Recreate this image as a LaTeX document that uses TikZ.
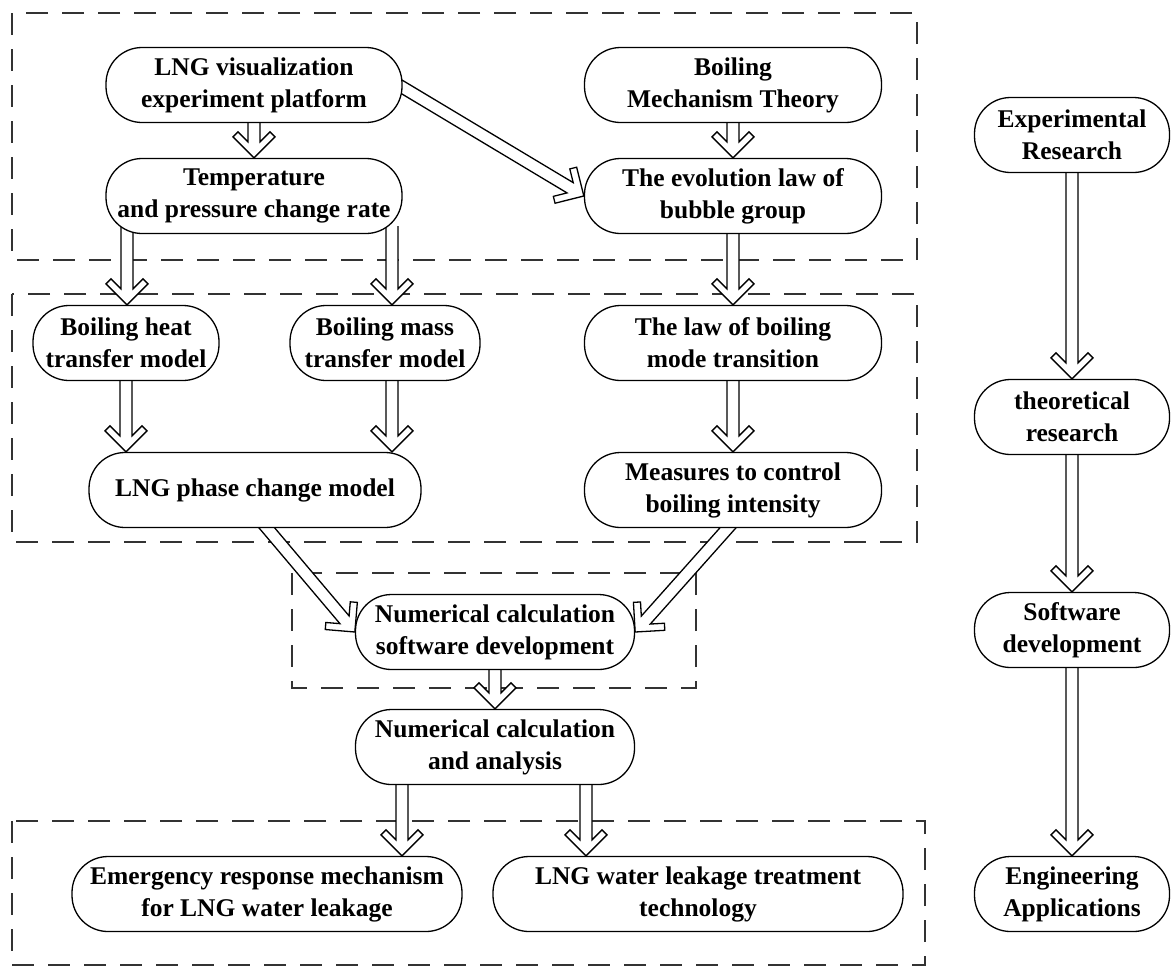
\documentclass[tikz,border=0pt]{standalone}
\usepackage{fontspec}
\setmainfont{Liberation Serif}
\usetikzlibrary{calc}
\pgfdeclarelayer{dashlayer}
\pgfdeclarelayer{arrlayer}
\pgfsetlayers{dashlayer,arrlayer,main}
\newcommand\hollowarrow[2]{%
  \coordinate (hS) at #1;
  \coordinate (hT) at #2;
  \coordinate (hJ) at ($(hT)!16pt!(hS)$);
  \coordinate (hO) at ($(hT)!21pt!(hS)$);
  \coordinate (hB) at ($(hT)!26pt!(hS)$);
  \draw[harr] ($(hS)!6pt!90:(hT)$) -- ($(hJ)!6pt!90:(hT)$) -- ($(hB)!16pt!90:(hT)$)
     -- ($(hO)!21pt!90:(hT)$) -- (hT) -- ($(hO)!21pt!-90:(hT)$)
     -- ($(hB)!16pt!-90:(hT)$) -- ($(hJ)!6pt!-90:(hT)$) -- ($(hS)!6pt!-90:(hT)$);
}
\begin{document}
\begin{tikzpicture}[x=1pt,y=-1pt,
  box/.style={draw, line width=1.3pt, fill=white, rounded corners=36pt,
    minimum height=75pt, inner sep=0pt, align=center,
    font=\fontsize{25.5}{32}\selectfont\bfseries},
  grp/.style={draw=black!80, line width=2pt, dash pattern=on 22pt off 14pt},
  harr/.style={draw, line width=1.3pt, fill=white, line join=miter}]
\useasboundingbox (0,0) rectangle (1174,967);

% nodes
\node[box,minimum width=296pt] (vis)  at (254,85)  {LNG visualization\\experiment platform};
\node[box,minimum width=296pt] (temp) at (254,196) {Temperature\\and pressure change rate};
\node[box,minimum width=297pt] (mech) at (733,85)  {Boiling\\Mechanism Theory};
\node[box,minimum width=297pt] (evo)  at (733,196) {The evolution law of\\bubble group};
\node[box,minimum width=186pt] (heat) at (126,343) {Boiling heat\\transfer model};
\node[box,minimum width=190pt] (mass) at (385,343) {Boiling mass\\transfer model};
\node[box,minimum width=297pt] (law)  at (733,343) {The law of boiling\\mode transition};
\node[box,minimum width=332pt] (phase) at (255,490) {LNG phase change model};
\node[box,minimum width=297pt] (meas) at (733,490) {Measures to control\\boiling intensity};
\node[box,minimum width=279pt] (soft) at (495,632) {Numerical calculation\\software development};
\node[box,minimum width=279pt] (ana)  at (495,747) {Numerical calculation\\and analysis};
\node[box,minimum width=390pt] (emer) at (267,894) {Emergency response mechanism\\for LNG water leakage};
\node[box,minimum width=410pt] (water) at (698,894) {LNG water leakage treatment\\technology};
\node[box,minimum width=195pt] (exp)  at (1072,135) {Experimental\\Research};
\node[box,minimum width=195pt] (theo) at (1072,417) {theoretical\\research};
\node[box,minimum width=195pt] (sdev) at (1072,630) {Software\\development};
\node[box,minimum width=195pt] (eng)  at (1072,894) {Engineering\\Applications};

\coordinate (t1) at ($(temp.south)+(-127,-8)$);
\coordinate (t2) at ($(temp.south)+(138,-8)$);
\coordinate (m1) at ($(mass.south)+(7,0)$);
\coordinate (a1) at ($(ana.south)+(-93,0)$);
\coordinate (a2) at ($(ana.south)+(91,0)$);

% dashed groups
\begin{pgfonlayer}{dashlayer}
\draw[grp] (12,13) rectangle (917,260);
\draw[grp] (12,294) rectangle (917,542);
\draw[grp] (292,573) rectangle (696,688);
\draw[grp] (12,821) rectangle (925,965);
\end{pgfonlayer}

% arrows
\begin{pgfonlayer}{arrlayer}
\hollowarrow{(vis.south)}{(temp.north)}
\hollowarrow{($(vis.east)+(-4,0)$)}{(evo.west)}
\hollowarrow{(mech.south)}{(evo.north)}
\hollowarrow{(t1)}{(t1 |- heat.north)}
\hollowarrow{(t2)}{(t2 |- mass.north)}
\hollowarrow{(evo.south)}{(law.north)}
\hollowarrow{(heat.south)}{(heat.south |- phase.north)}
\hollowarrow{(m1)}{(m1 |- phase.north)}
\hollowarrow{(law.south)}{(meas.north)}
\hollowarrow{($(phase.south)+(7,-6)$)}{(soft.west)}
\hollowarrow{($(meas.south)+(0,-6)$)}{(soft.east)}
\hollowarrow{(soft.south)}{(ana.north)}
\hollowarrow{(a1)}{(a1 |- emer.north)}
\hollowarrow{(a2)}{(a2 |- water.north)}
\hollowarrow{(exp.south)}{(theo.north)}
\hollowarrow{(theo.south)}{(sdev.north)}
\hollowarrow{(sdev.south)}{(eng.north)}
\end{pgfonlayer}
\end{tikzpicture}
\end{document}
